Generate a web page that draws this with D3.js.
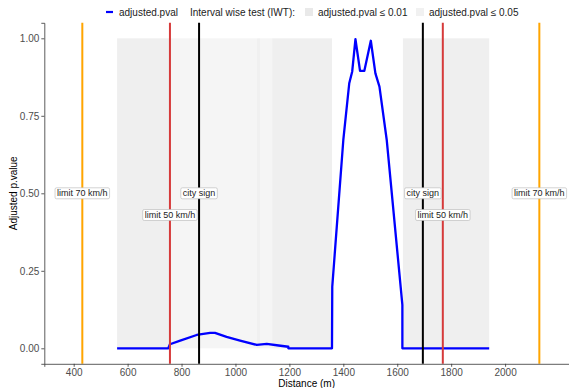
<!DOCTYPE html>
<html>
<head>
<meta charset="utf-8">
<script src="https://cdn.jsdelivr.net/npm/d3@7"></script>
<style>
  body { margin: 0; background: #fff; }
  svg { font-family: "Liberation Sans", Arial, sans-serif; }
</style>
</head>
<body>
<div id="chart"></div>
<script>
////////////////////////////////////////////////////////////////////////
// Data

// adjusted p-value curve (distance in m, p value)
const curveDist = [561, 751, 757, 795, 856, 906, 924, 967, 1017, 1079, 1116, 1160, 1196, 1196, 1358, 1359,
  1400, 1422, 1433, 1445, 1462, 1478, 1502, 1519, 1534, 1561, 1619, 1619, 1941];
const curvePval = [0, 0, 0.013, 0.025, 0.043, 0.05, 0.05, 0.037, 0.025, 0.011, 0.014, 0.009, 0.005, 0, 0, 0.199,
  0.672, 0.855, 0.893, 0.997, 0.895, 0.895, 0.992, 0.887, 0.844, 0.672, 0.14, 0, 0];

// IWT significance intervals
const rectStart = [561, 757, 1080, 1091, 1136, 1621];
const rectEnd = [757, 1080, 1091, 1136, 1358, 1941];
const rectLevel = ["p01", "p05", "strip", "p05", "p01", "p01"];

// road markers
const markerDist = [432, 757, 865, 1695, 1769, 2127];
const markerName = ["limit 70 km/h", "limit 50 km/h", "city sign", "city sign", "limit 50 km/h", "limit 70 km/h"];
const markerLabelY = [0.5, 0.43, 0.5, 0.5, 0.43, 0.5];

const xTicks = [400, 600, 800, 1000, 1200, 1400, 1600, 1800, 2000];
const yTicks = [0, 0.25, 0.5, 0.75, 1];

////////////////////////////////////////////////////////////////////////
// Layout

let width = 569;
let height = 388;
let svg = d3.select("#chart").append("svg")
  .attr("width", width)
  .attr("height", height);

let xScale = d3.scaleLinear().domain([291, 2237]).range([44.3, 569]);
let yScale = d3.scaleLinear().domain([-0.05, 1.05]).range([363.8, 22.8]);

let levelColor = { p01: "#efefef", p05: "#f5f5f5", strip: "#f0f0f0" };
let markerColor = { "limit 70 km/h": "#ffa500", "limit 50 km/h": "#d63a3a", "city sign": "#000000" };

// grey interval rects
svg.append("g")
  .selectAll("rect")
  .data(rectStart)
  .enter()
  .append("rect")
  .attr("x", (d, i) => xScale(d))
  .attr("y", yScale(1))
  .attr("width", (d, i) => xScale(rectEnd[i]) - xScale(d))
  .attr("height", yScale(0) - yScale(1))
  .attr("fill", (d, i) => levelColor[rectLevel[i]]);

// p value curve
let line = d3.line()
  .x((d, i) => xScale(curveDist[i]))
  .y((d, i) => yScale(curvePval[i]));

svg.append("path")
  .datum(curvePval)
  .attr("d", line)
  .attr("fill", "none")
  .attr("stroke", "#0000ff")
  .attr("stroke-width", 2.3)
  .attr("stroke-linejoin", "round");

// vertical marker lines
svg.append("g")
  .selectAll("line")
  .data(markerDist)
  .enter()
  .append("line")
  .attr("x1", d => xScale(d))
  .attr("x2", d => xScale(d))
  .attr("y1", yScale(1.05))
  .attr("y2", yScale(-0.05))
  .attr("stroke", (d, i) => markerColor[markerName[i]])
  .attr("stroke-width", 2);

// marker labels
let labels = svg.append("g")
  .selectAll("g")
  .data(markerDist)
  .enter()
  .append("g")
  .attr("transform", (d, i) => `translate(${xScale(d)},${yScale(markerLabelY[i])})`);

labels.append("rect")
  .attr("fill", "white")
  .attr("stroke", "#b5b5b5")
  .attr("stroke-width", 0.6)
  .attr("rx", 1.5);

labels.append("text")
  .attr("text-anchor", "middle")
  .attr("dy", "0.35em")
  .attr("font-size", 9)
  .attr("fill", "#222")
  .text((d, i) => markerName[i]);

labels.each(function () {
  let g = d3.select(this);
  let w = g.select("text").node().getComputedTextLength();
  g.select("rect")
    .attr("x", -w / 2 - 2)
    .attr("y", -5.5)
    .attr("width", w + 4)
    .attr("height", 11);
});

// axes
let xAxis = d3.axisBottom(xScale).tickValues(xTicks).tickSize(3).tickPadding(2).tickFormat(d3.format("d"));
let yAxis = d3.axisLeft(yScale).tickValues(yTicks).tickSize(3).tickPadding(2).tickFormat(d3.format(".2f"));

let gx = svg.append("g")
  .attr("transform", `translate(0,${yScale(-0.05)})`)
  .call(xAxis);
let gy = svg.append("g")
  .attr("transform", `translate(${xScale.range()[0]},0)`)
  .call(yAxis);

[gx, gy].forEach(g => {
  g.select(".domain").attr("stroke", "#333").attr("stroke-width", 0.8);
  g.selectAll(".tick line").attr("stroke", "#333").attr("stroke-width", 0.8);
  g.selectAll(".tick text").attr("fill", "#4d4d4d").attr("font-size", 10)
    .attr("font-family", "Liberation Sans, Arial, sans-serif");
});

// axis titles
svg.append("text")
  .attr("x", (xScale.range()[0] + xScale.range()[1]) / 2)
  .attr("y", 387)
  .attr("text-anchor", "middle")
  .attr("font-size", 10)
  .text("Distance (m)");

svg.append("text")
  .attr("transform", `translate(17,${(yScale(-0.05) + yScale(1.05)) / 2}) rotate(-90)`)
  .attr("text-anchor", "middle")
  .attr("font-size", 10)
  .text("Adjusted p.value");

// legend
let legend = svg.append("g").attr("font-size", 10).attr("fill", "#222");
legend.append("line")
  .attr("x1", 106).attr("x2", 113).attr("y1", 12).attr("y2", 12)
  .attr("stroke", "#0000ff").attr("stroke-width", 2.2);
legend.append("text").attr("x", 119).attr("y", 12).attr("dy", "0.35em").text("adjusted.pval");
legend.append("text").attr("x", 190).attr("y", 12).attr("dy", "0.35em").text("Interval wise test (IWT):");
legend.append("rect").attr("x", 305).attr("y", 8).attr("width", 8).attr("height", 8).attr("fill", "#e9e9e9");
legend.append("text").attr("x", 318).attr("y", 12).attr("dy", "0.35em").text("adjusted.pval \u2264 0.01");
legend.append("rect").attr("x", 416).attr("y", 8).attr("width", 8).attr("height", 8).attr("fill", "#f1f1f1");
legend.append("text").attr("x", 429).attr("y", 12).attr("dy", "0.35em").text("adjusted.pval \u2264 0.05");
</script>
</body>
</html>
